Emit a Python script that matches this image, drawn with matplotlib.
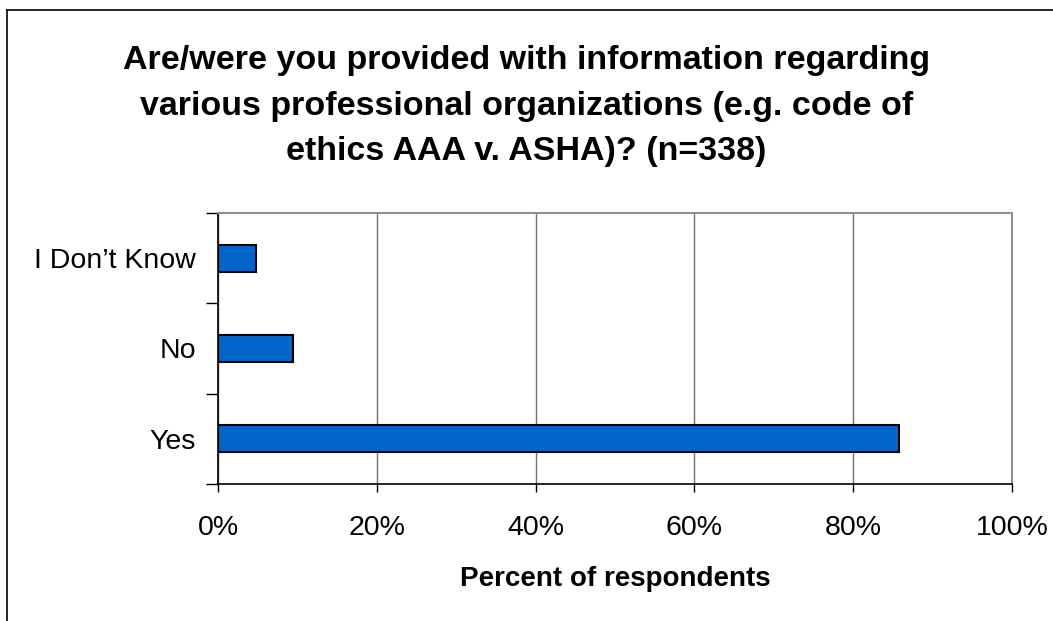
import numpy as np
import matplotlib.pyplot as plt
from matplotlib.lines import Line2D
from matplotlib.ticker import FuncFormatter

plt.rcParams['font.family'] = ['Liberation Sans', 'DejaVu Sans']

# Survey responses, percent of respondents (n=338)
categories = ['Yes', 'No', 'I Don\u2019t Know']
percents = [85.8, 9.4, 4.8]

title = ('Are/were you provided with information regarding\n'
         'various professional organizations (e.g. code of\n'
         'ethics AAA v. ASHA)? (n=338)')

W, H = 1053, 621
fig = plt.figure(figsize=(W / 100, H / 100), dpi=100)
fig.patch.set_facecolor('white')

ax = fig.add_axes([218 / W, 1 - 484 / H, (1012 - 218) / W, (484 - 213) / H])

y = np.arange(len(categories))
ax.barh(y, percents, height=0.3, color='#0066CC', edgecolor='black', linewidth=1.5, zorder=3)

ax.set_xlim(0, 100)
ax.set_ylim(-0.5, len(categories) - 0.5)
ax.set_xticks(np.arange(0, 101, 20))
ax.xaxis.set_major_formatter(FuncFormatter(lambda v, p: '%d%%' % v))

# category labels sit between the boundary ticks
ax.set_yticks(np.arange(-0.5, len(categories), 1.0))
ax.set_yticklabels([])
ax.set_yticks(y, minor=True)
ax.set_yticklabels(categories, minor=True, fontsize=20.5)
ax.tick_params(axis='y', which='minor', length=0, pad=16)
ax.tick_params(axis='y', which='major', length=9, width=1, direction='out')
ax.tick_params(axis='x', length=6, width=1, direction='out', labelsize=20.5, pad=16)

ax.xaxis.grid(True, color='#707070', linewidth=1, zorder=0)
ax.set_axisbelow(True)
for side in ['top', 'right']:
    ax.spines[side].set_color('#909090')
    ax.spines[side].set_linewidth(1.5)
for side in ['left', 'bottom']:
    ax.spines[side].set_color('black')
    ax.spines[side].set_linewidth(1.2)

ax.set_xlabel('Percent of respondents', fontsize=20, fontweight='bold', labelpad=18)

fig.text(0.5, 1 - 106 / H, title, ha='center', va='center',
         fontsize=24.5, fontweight='bold', linespacing=1.6)

# chart frame
fig.add_artist(Line2D([7 / W, 7 / W], [0, 1 - 10 / H], color='black', linewidth=1.2))
fig.add_artist(Line2D([7 / W, 1], [1 - 10 / H, 1 - 10 / H], color='black', linewidth=1.2))

fig.savefig('out.png', dpi=100)
